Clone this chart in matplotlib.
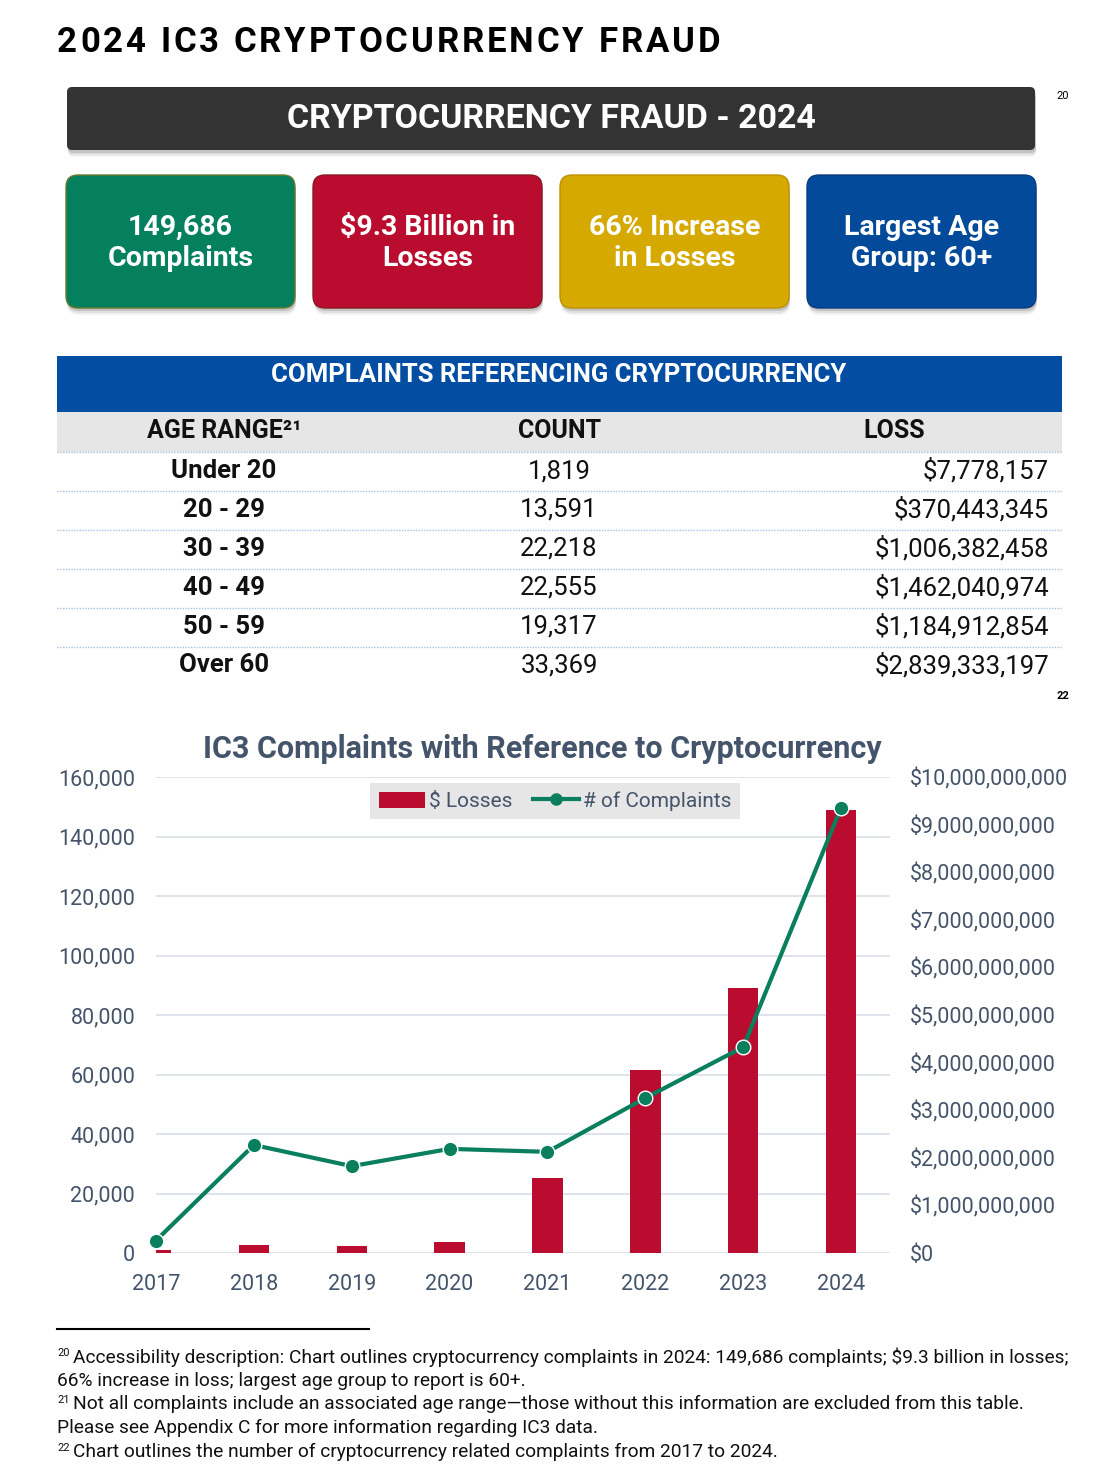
import matplotlib
matplotlib.use("Agg")
import matplotlib.pyplot as plt
from matplotlib.patches import FancyBboxPatch, Rectangle, Patch
from matplotlib.lines import Line2D
from matplotlib.ticker import FuncFormatter, MultipleLocator

plt.rcParams['font.family'] = ['Roboto', 'DejaVu Sans']
plt.rcParams['text.parse_math'] = False

# --- data ---
card_texts = ["149,686\nComplaints", "$9.3 Billion in\nLosses", "66% Increase\nin Losses", "Largest Age\nGroup: 60+"]
card_colors = ["#04805F", "#BA0C2F", "#D5A900", "#034A9B"]
card_edges = ["#6B7A2A", "#8A1A22", "#C09000", "#0A3C80"]

age_ranges = ["Under 20", "20 - 29", "30 - 39", "40 - 49", "50 - 59", "Over 60"]
age_counts = [1819, 13591, 22218, 22555, 19317, 33369]
age_losses = [7778157, 370443345, 1006382458, 1462040974, 1184912854, 2839333197]

years = ["2017", "2018", "2019", "2020", "2021", "2022", "2023", "2024"]
complaints = [4193, 36300, 29200, 35000, 34000, 52100, 69200, 149686]
losses = [0.06e9, 0.17e9, 0.15e9, 0.23e9, 1.58e9, 3.84e9, 5.57e9, 9.31e9]

footnotes = [
    ("20", "Accessibility description: Chart outlines cryptocurrency complaints in 2024: 149,686 complaints; $9.3 billion in losses;"),
    ("", "66% increase in loss; largest age group to report is 60+."),
    ("21", "Not all complaints include an associated age range\u2014those without this information are excluded from this table."),
    ("", "Please see Appendix C for more information regarding IC3 data."),
    ("22", "Chart outlines the number of cryptocurrency related complaints from 2017 to 2024."),
]

GREEN = "#0A7F5E"
RED = "#BA0C2F"
SLATE = "#44546A"

fig = plt.figure(figsize=(11.12, 14.8), dpi=100)
bg = fig.add_axes([0, 0, 1, 1])
bg.set_xlim(0, 1112)
bg.set_ylim(1480, 0)
bg.axis('off')
renderer = fig.canvas.get_renderer()


def spaced_text(x, y, s, track, **kw):
    # matplotlib has no letter spacing, so place the characters one by one
    for ch in s:
        if ch == " ":
            x += kw["fontsize"] * 0.35 + track
            continue
        t = bg.text(x, y, ch, ha='left', va='center', **kw)
        x += t.get_window_extent(renderer).width + track


def shadow_box(x, y, w, h, r, fc, ec="none"):
    for k, a in [(7, 0.05), (5, 0.08), (3, 0.12)]:
        bg.add_patch(FancyBboxPatch((x + 1, y + k), w, h, boxstyle=f"round,pad=0,rounding_size={r}",
                                    fc="black", ec="none", alpha=a))
    bg.add_patch(FancyBboxPatch((x, y), w, h, boxstyle=f"round,pad=0,rounding_size={r}",
                                fc=fc, ec=ec, lw=1))


# page title
spaced_text(57, 42, "2024 IC3 CRYPTOCURRENCY FRAUD", 2.9, fontsize=25, weight='bold', color='black')

# banner
shadow_box(67, 87, 968, 63, 5, "#333333")
bg.text(551, 119, "CRYPTOCURRENCY FRAUD - 2024", ha='center', va='center', color='white',
        fontsize=24.5, weight='bold')
bg.text(1063, 96, "20", ha='center', va='center', fontsize=8, color='black')

# cards
for i, (txt, fc, ec) in enumerate(zip(card_texts, card_colors, card_edges)):
    x0 = 66 + i * 247
    shadow_box(x0, 175, 229, 133, 12, fc, ec)
    bg.text(x0 + 114.5, 243, txt, ha='center', va='center', color='white', fontsize=20.5,
            weight='bold', linespacing=1.2)

# table
bg.add_patch(Rectangle((57, 356), 1005, 56, fc="#034EA2", ec="none"))
bg.text(559, 375, "COMPLAINTS REFERENCING CRYPTOCURRENCY", ha='center', va='center', color='white',
        fontsize=18.5, weight='bold')
bg.add_patch(Rectangle((57, 412), 1005, 40, fc="#E6E6E6", ec="none"))
bg.text(224, 431, "AGE RANGE\u00b2\u00b9", ha='center', va='center', fontsize=18, weight='bold', color='#111111')
bg.text(560, 431, "COUNT", ha='center', va='center', fontsize=18, weight='bold', color='#111111')
bg.text(894, 431, "LOSS", ha='center', va='center', fontsize=18, weight='bold', color='#111111')
for i, (age, cnt, loss) in enumerate(zip(age_ranges, age_counts, age_losses)):
    yc = 471 + i * 38.9
    top = 452 + i * 39
    bg.plot([57, 1062], [top, top], color="#A9C2E2", lw=1, ls=(0, (1, 1)))
    bg.text(224, yc, age, ha='center', va='center', fontsize=18.5, weight='bold', color='#111111')
    bg.text(559, yc, f"{cnt:,}", ha='center', va='center', fontsize=18.5, color='#111111')
    bg.text(1049, yc, f"${loss:,}", ha='right', va='center', fontsize=18.5, color='#111111')
bg.text(1063, 696, "22", ha='center', va='center', fontsize=8, weight='bold', color='black')

# chart
bg.text(542, 749, "IC3 Complaints with Reference to Cryptocurrency", ha='center', va='center',
        fontsize=22, weight='bold', color=SLATE)

ax = fig.add_axes([156 / 1112, 1 - 1253 / 1480, 734 / 1112, 476 / 1480])
ax2 = ax.twinx()
x = list(range(len(years)))

ax.set_ylim(0, 10e9)
ax.set_xlim(0, 7.5)
for v in range(0, 160001, 20000):
    ax.axhline(v / 160000 * 10e9, color="#DCE1EA", lw=1.3, zorder=0)
ax.bar(x, losses, width=0.31, color=RED, zorder=2)
ax.yaxis.tick_right()
ax.yaxis.set_major_locator(MultipleLocator(1e9))
ax.yaxis.set_major_formatter(FuncFormatter(lambda v, p: f"${v:,.0f}"))
ax.set_xticks(x)
ax.set_xticklabels(years)

ax2.set_ylim(0, 160000)
ax2.plot(x, complaints, color=GREEN, lw=3, marker='o', ms=10.5, mec='white', mew=1, zorder=3, clip_on=False)
ax2.yaxis.tick_left()
ax2.yaxis.set_major_locator(MultipleLocator(20000))
ax2.yaxis.set_major_formatter(FuncFormatter(lambda v, p: f"{v:,.0f}"))

for a in (ax, ax2):
    for s in a.spines.values():
        s.set_visible(False)
    a.tick_params(length=0, labelsize=15.5, labelcolor=SLATE)
ax.tick_params(axis='y', pad=14)
ax.tick_params(axis='x', pad=15)
ax2.tick_params(axis='y', pad=15)

handles = [Patch(fc=RED, ec='none'),
           Line2D([], [], color=GREEN, lw=3, marker='o', ms=8)]
leg = ax2.legend(handles, ["$ Losses", "# of Complaints"], loc='upper center',
                 bbox_to_anchor=(0.5436, 0.987), borderaxespad=0, ncol=2, frameon=True, fancybox=False,
                 facecolor="#E7E6E6", edgecolor='none', framealpha=1, fontsize=15,
                 handlelength=2.2, handleheight=0.8, columnspacing=1.0, handletextpad=0.2,
                 labelcolor=SLATE, borderpad=0.4)

# footnotes
bg.plot([57, 369], [1329, 1329], color='black', lw=1.5)
for i, (sup, line) in enumerate(footnotes):
    yc = 1357 + i * 23.7
    if sup:
        bg.text(57, yc - 4, sup, ha='left', va='center', fontsize=8, color='#111111')
        bg.text(73, yc, line, ha='left', va='center', fontsize=13.8, color='#111111')
    else:
        bg.text(57, yc, line, ha='left', va='center', fontsize=13.8, color='#111111')

fig.savefig("out.png", dpi=100)
